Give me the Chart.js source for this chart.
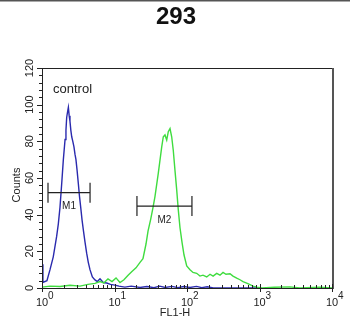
<!DOCTYPE html>
<html>
<head>
<meta charset="utf-8">
<script src="https://cdn.jsdelivr.net/npm/chart.js@4"></script>
<style>
  body { margin: 0; background: #fff; }
  canvas { display: block; }
</style>
</head>
<body>
<canvas id="histo" width="350" height="320"></canvas>
<script>
// --- data ---
const blueX = [1.0, 1.03, 1.17, 1.29, 1.43, 1.59, 1.68, 1.77, 1.87, 1.97, 2.08, 2.14, 2.19, 2.25, 2.31, 2.37, 2.43, 2.50, 2.57, 2.66,
    2.76, 2.85, 2.94, 3.05, 3.17, 3.29, 3.42, 3.57, 3.72, 3.92, 4.13, 4.35, 4.59, 4.95, 5.38, 5.8, 6.31, 7.0, 7.8, 8.8,
    10.1, 11.5, 13.9, 17, 22.5, 28, 35, 42, 50, 62, 75, 90, 110, 135, 160, 190, 230, 300, 500, 1000];
const blueY = [13, 3, 4, 10, 17, 28, 35, 44, 57, 70, 81, 86, 93, 96, 98.5, 94, 91, 86, 82.5, 80,
    77, 73, 70, 64, 57, 50, 44, 37, 31.6, 25, 19, 14, 10, 6, 4.4, 3.5, 5, 3, 2.7, 2,
    1.6, 1, 0.5, 1, 0.3, 0.8, 0.2, 1, 0.3, 0.9, 0.2, 0.8, 0.3, 0.9, 0.2, 0.7, 0, 0, 0, 0];

const greenX = [1.0, 1.29, 1.77, 2.43, 3.34, 4.31, 5.38, 6.31, 7.16, 8.13, 9.24, 10.5, 11.9, 13.5, 15.4, 17.4, 19.8, 22.5, 24.7, 27.2,
    29.0, 31.6, 34.0, 36.2, 40.2, 44.8, 47.1, 49.7, 52.5, 55.2, 58.3, 61.5, 64.7, 68.3, 72.1, 75.9, 80.0, 85.3, 91.0, 99.1,
    110, 121, 136, 151, 166, 187, 208, 229, 257, 285, 314, 345, 392, 431, 485, 538, 592, 666, 739, 813,
    915, 1082, 1600, 2630, 3620, 6790, 10000];
const greenY = [0.5, 1, 0.8, 1.5, 1, 2, 2.5, 3.5, 2.8, 5, 3.5, 5.5, 3, 4.5, 7, 9, 11, 14, 16, 24,
    31, 37.6, 44, 50, 62.7, 77, 82.5, 83.5, 80.7, 85.3, 87, 82.5, 75, 64, 53.5, 42.5, 33, 25, 18, 12,
    10, 8.5, 8, 6.5, 7, 6, 7.5, 6.5, 8, 7, 8.5, 7.5, 7.8, 6.5, 5.4, 4.5, 3.5, 2.7, 1.8, 1,
    0.5, 0, 0.4, 0.6, 0, 0.4, 0];

const yTicks = [0, 20, 40, 60, 80, 100, 120];
const xDecades = [1, 10, 100, 1000, 10000];
const xExponents = ['0', '1', '2', '3', '4'];

const markerLabels = ['M1', 'M2'];
const markerStart = [1.21, 20.4];
const markerEnd = [4.6, 117];
const markerLevel = [52, 44.7];

const FONT = '"Liberation Sans", Arial, sans-serif';
const toPoints = (xs, ys) => xs.map((x, i) => ({ x: x, y: ys[i] }));

// --- axes, frame, labels, markers ---
const decorations = {
    id: 'decorations',
    afterDraw(chart) {
        const ctx = chart.ctx;
        const xs = chart.scales.x;
        const ys = chart.scales.y;
        const a = chart.chartArea;
        ctx.save();

        // top border of the picture
        ctx.strokeStyle = '#555';
        ctx.lineWidth = 1.5;
        ctx.beginPath(); ctx.moveTo(0, 0.75); ctx.lineTo(350, 0.75); ctx.stroke();

        // frame
        ctx.strokeStyle = '#222';
        ctx.lineWidth = 1;
        ctx.beginPath();
        ctx.moveTo(a.left + 0.5, a.top + 0.5);
        ctx.lineTo(a.right, a.top + 0.5);
        ctx.moveTo(a.left + 0.5, a.top);
        ctx.lineTo(a.left + 0.5, a.bottom + 0.5);
        ctx.lineTo(a.right, a.bottom + 0.5);
        ctx.stroke();
        ctx.strokeStyle = '#555';
        ctx.lineWidth = 2;
        ctx.beginPath(); ctx.moveTo(a.right + 1, a.top); ctx.lineTo(a.right + 1, a.bottom + 1); ctx.stroke();

        // y ticks
        ctx.strokeStyle = '#222';
        ctx.lineWidth = 1;
        for (let v = 0; v <= 120; v += 4) {
            const py = Math.round(ys.getPixelForValue(v)) + 0.5;
            const len = v % 20 === 0 ? 5 : 3;
            ctx.beginPath(); ctx.moveTo(a.left - len, py); ctx.lineTo(a.left, py); ctx.stroke();
        }
        ctx.fillStyle = '#222';
        ctx.font = '11px ' + FONT;
        ctx.textAlign = 'center';
        ctx.textBaseline = 'middle';
        yTicks.forEach(v => {
            const py = ys.getPixelForValue(v);
            ctx.save();
            ctx.translate(30, py);
            ctx.rotate(-Math.PI / 2);
            ctx.fillText(String(v), 0, 0);
            ctx.restore();
        });

        // x ticks (log)
        xDecades.forEach((d, i) => {
            const px = Math.round(xs.getPixelForValue(d)) + 0.5;
            ctx.beginPath(); ctx.moveTo(px, a.bottom - 4); ctx.lineTo(px, a.bottom + 4); ctx.stroke();
            if (i < xDecades.length - 1) {
                for (let m = 2; m <= 9; m++) {
                    const mx = Math.round(xs.getPixelForValue(d * m)) + 0.5;
                    ctx.beginPath(); ctx.moveTo(mx, a.bottom - 3); ctx.lineTo(mx, a.bottom + 1); ctx.stroke();
                }
            }
            const cx = xs.getPixelForValue(d);
            ctx.font = '11px ' + FONT;
            ctx.textAlign = 'center';
            ctx.textBaseline = 'alphabetic';
            ctx.fillText('10', cx, 306);
            ctx.font = '10px ' + FONT;
            ctx.textAlign = 'left';
            ctx.fillText(xExponents[i], cx + 6, 299);
        });

        // axis titles
        ctx.textAlign = 'center';
        ctx.textBaseline = 'middle';
        ctx.font = '11px ' + FONT;
        ctx.fillText('FL1-H', 175, 313);
        ctx.save();
        ctx.translate(17, 185);
        ctx.rotate(-Math.PI / 2);
        ctx.fillText('Counts', 0, 0);
        ctx.restore();

        // title
        ctx.font = 'bold 24px ' + FONT;
        ctx.fillStyle = '#111';
        ctx.fillText('293', 176, 17);

        // control label
        ctx.font = '13px ' + FONT;
        ctx.fillStyle = '#222';
        ctx.textAlign = 'left';
        ctx.fillText('control', 53, 89);

        // gate markers
        ctx.strokeStyle = '#222';
        ctx.lineWidth = 1.2;
        markerLabels.forEach((lab, i) => {
            const x0 = xs.getPixelForValue(markerStart[i]);
            const x1 = xs.getPixelForValue(markerEnd[i]);
            const py = ys.getPixelForValue(markerLevel[i]);
            ctx.beginPath();
            ctx.moveTo(x0, py); ctx.lineTo(x1, py);
            ctx.moveTo(x0, py - 10); ctx.lineTo(x0, py + 10);
            ctx.moveTo(x1, py - 10); ctx.lineTo(x1, py + 10);
            ctx.stroke();
            ctx.font = '10px ' + FONT;
            ctx.textAlign = 'center';
            ctx.fillText(lab, (x0 + x1) / 2, py + 14);
        });

        ctx.restore();
    }
};

new Chart(document.getElementById('histo').getContext('2d'), {
    type: 'line',
    data: {
        datasets: [
            { data: toPoints(greenX, greenY), borderColor: '#3fdc3f', borderWidth: 1.4, pointRadius: 0, tension: 0 },
            { data: toPoints(blueX, blueY), borderColor: '#2a2aae', borderWidth: 1.4, pointRadius: 0, tension: 0 }
        ]
    },
    options: {
        responsive: false,
        animation: false,
        layout: { padding: { left: 42, right: 18, top: 68, bottom: 32 } },
        plugins: { legend: { display: false }, title: { display: false }, tooltip: { enabled: false } },
        scales: {
            x: { type: 'logarithmic', min: 1, max: 10000, display: false },
            y: { type: 'linear', min: 0, max: 120, display: false }
        }
    },
    plugins: [decorations]
});
</script>
</body>
</html>
